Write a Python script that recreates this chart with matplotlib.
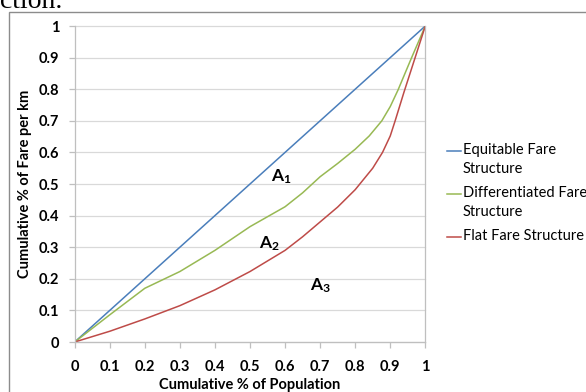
import matplotlib
matplotlib.use("Agg")
import matplotlib.pyplot as plt
from matplotlib.lines import Line2D
from matplotlib.patches import Rectangle

# cumulative share of population vs cumulative share of fare per km
population = [0, 0.1, 0.2, 0.3, 0.4, 0.5, 0.6, 0.7, 0.8, 0.9, 1.0]
equitable = [0, 0.1, 0.2, 0.3, 0.4, 0.5, 0.6, 0.7, 0.8, 0.9, 1.0]

diff_x = [0, 0.1, 0.2, 0.3, 0.4, 0.5, 0.6, 0.65, 0.7, 0.75, 0.8, 0.84, 0.876, 0.9, 0.922, 0.961, 1.0]
differentiated = [0, 0.086, 0.17, 0.223, 0.29, 0.365, 0.428, 0.472, 0.523, 0.565, 0.61, 0.652, 0.7, 0.745, 0.797, 0.9, 1.0]

flat_x = [0, 0.1, 0.2, 0.3, 0.4, 0.5, 0.6, 0.65, 0.7, 0.75, 0.8, 0.85, 0.878, 0.9, 0.914, 0.939, 0.971, 1.0]
flat = [0, 0.034, 0.073, 0.115, 0.165, 0.223, 0.29, 0.333, 0.38, 0.427, 0.482, 0.55, 0.6, 0.652, 0.7, 0.79, 0.9, 1.0]

ticks = [0, 0.1, 0.2, 0.3, 0.4, 0.5, 0.6, 0.7, 0.8, 0.9, 1]
tick_labels = ["0", "0.1", "0.2", "0.3", "0.4", "0.5", "0.6", "0.7", "0.8", "0.9", "1"]

series = [
    ("Equitable Fare\nStructure", "#4A7EBB"),
    ("Differentiated Fare\nStructure", "#98B954"),
    ("Flat Fare Structure", "#BE4B48"),
]

plt.rcParams["font.family"] = ["Lato", "DejaVu Sans"]
plt.rcParams["mathtext.fontset"] = "custom"
plt.rcParams["mathtext.bf"] = "Lato:bold"
plt.rcParams["mathtext.rm"] = "Lato"

W, H = 586, 392
fig = plt.figure(figsize=(W / 100, H / 100), dpi=100)
ax = fig.add_axes([74.7 / W, 1 - 342 / H, 350.6 / W, 316 / H])

ax.plot(population, equitable, color=series[0][1], lw=1.1)
ax.plot(diff_x, differentiated, color=series[1][1], lw=1.1)
ax.plot(flat_x, flat, color=series[2][1], lw=1.1)

ax.set_xlim(0, 1)
ax.set_ylim(0, 1)
ax.set_xticks(ticks)
ax.set_xticklabels(tick_labels, fontweight="bold", fontsize=10.5)
ax.set_yticks(ticks)
ax.set_yticklabels(tick_labels, fontweight="bold", fontsize=10.5)
ax.grid(axis="y", color="#D9D9D9", lw=0.9, clip_on=False)
ax.set_axisbelow(True)
ax.spines["top"].set_visible(False)
for side in ["left", "right", "bottom"]:
    ax.spines[side].set_color("#BFBFBF")
    ax.spines[side].set_linewidth(0.9)
ax.tick_params(axis="both", color="#BFBFBF", length=4, width=0.9)
ax.tick_params(axis="y", pad=7)
ax.tick_params(axis="x", pad=9)

ax.set_xlabel("Cumulative % of Population", fontweight="bold", fontsize=10.5, labelpad=3)
ax.set_ylabel("Cumulative % of Fare per km", fontweight="bold", fontsize=10.5, labelpad=5)

# area labels
ax.text(0.59, 0.523, r"$\mathbf{A_1}$", fontsize=12.5, ha="center", va="center")
ax.text(0.556, 0.31, r"$\mathbf{A_2}$", fontsize=12.5, ha="center", va="center")
ax.text(0.70, 0.177, r"$\mathbf{A_3}$", fontsize=12.5, ha="center", va="center")

# legend entries
rows = [151, 194, 237]
for (label, color), y in zip(series, rows):
    yf = 1 - y / H
    fig.add_artist(Line2D([447 / W, 461 / W], [yf, yf], color=color, lw=1.1))
    fig.text(463 / W, yf + 8 / H, label, fontsize=10.5, va="top", ha="left",
             linespacing=1.45)

# outer chart border
fig.add_artist(Rectangle((9 / W, -0.1), 1.1, 1 - 12 / H + 0.1, transform=fig.transFigure,
                         fill=False, edgecolor="#8C8C8C", lw=1.0))

fig.text(0, 1 - 8 / H, "ction.", family="Liberation Serif", fontsize=20, va="baseline")

fig.savefig("out.png", dpi=100)
